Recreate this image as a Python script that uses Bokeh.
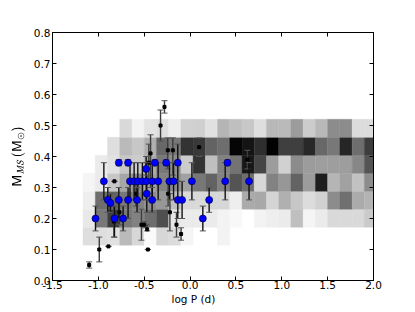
from bokeh.plotting import figure
from bokeh.models import (LinearColorMapper, ColumnDataSource, LinearAxis,
                          FixedTicker, PrintfTickFormatter, Range1d, Title)
from bokeh.transform import transform
from bokeh.palettes import Greys256
from bokeh.embed import file_html
from bokeh.resources import INLINE

# ---------------- data ----------------
x_ticks = [-1.5, -1.0, -0.5, 0.0, 0.5, 1.0, 1.5, 2.0]
y_ticks = [0.0, 0.1, 0.2, 0.3, 0.4, 0.5, 0.6, 0.7, 0.8]

# 2D histogram bin edges (log P, M_MS)
logp_edges = [-1.167, -1.033, -0.900, -0.767, -0.633, -0.500, -0.367, -0.233,
              -0.100, 0.033, 0.167, 0.300, 0.433, 0.567, 0.700, 0.833, 0.967,
              1.100, 1.233, 1.367, 1.500, 1.633, 1.767, 1.900, 2.033]
mass_edges = [0.114, 0.172, 0.230, 0.288, 0.346, 0.404, 0.462, 0.520]

N = None
# relative density (0..100) per cell, bottom row first
dens_row0 = [13, 13, 12, 27, 16, 2, 16, 14, 4, N, N, 5, N, N, N, N, N, N, N, N, N, N, N, N]
dens_row1 = [9, 53, 76, 53, 49, 57, 69, 10, 8, 8, 8, 5, 3, N, 5, 7, 8, 25, 4, 8, 15, 15, 15, 21]
dens_row2 = [7, 57, 61, 53, 49, 45, 41, 25, 15, 15, 16, 16, 7, 33, 34, 17, 31, 22, 14, 18, 45, 56, 33, 30]
dens_row3 = [4, 8, 22, 35, 45, 37, 49, 45, 37, 53, 61, 49, 67, 57, 16, 49, 41, 61, 39, 88, 29, 37, 24, 45]
dens_row4 = [N, 8, 12, 22, 20, 33, 53, 45, 20, 80, 25, 49, 55, 91, 73, 39, 18, 45, 39, 38, 38, 38, 47, 67]
dens_row5 = [N, N, 13, 27, 22, 31, 59, 53, 80, 78, 61, 57, 98, 92, 82, 99, 75, 75, 84, 59, 53, 85, 57, 76]
dens_row6 = [N, N, N, 15, 5, 11, 13, 7, 18, 19, 12, 29, 25, 22, 13, 28, 27, 39, 20, 28, 45, 45, 14, 14]
dens_rows = [dens_row0, dens_row1, dens_row2, dens_row3, dens_row4, dens_row5, dens_row6]

# observed systems with error bars (black)
obs_logp = [-1.10, -0.99, -0.89, -0.825, -0.83, -0.77, -0.59, -0.53, -0.50, -0.468,
            -0.46, -0.431, -0.45, -0.322, -0.279, -0.243, -0.239, -0.22, -0.188,
            -0.148, -0.098, 0.099, 0.625]
obs_mass = [0.05, 0.10, 0.11, 0.32, 0.19, 0.22, 0.28, 0.18, 0.18, 0.165,
            0.10, 0.41, 0.38, 0.50, 0.56, 0.42, 0.28, 0.22, 0.42,
            0.18, 0.15, 0.43, 0.39]
obs_lo = [0.04, 0.06, 0.11, 0.32, 0.14, 0.18, 0.24, 0.13, 0.17, 0.16,
          0.10, 0.30, 0.32, 0.45, 0.54, 0.36, 0.24, 0.16, 0.34,
          0.14, 0.13, 0.40, 0.36]
obs_hi = [0.06, 0.14, 0.11, 0.32, 0.24, 0.26, 0.32, 0.23, 0.19, 0.18,
          0.10, 0.47, 0.44, 0.55, 0.58, 0.46, 0.32, 0.28, 0.46,
          0.22, 0.17, 0.46, 0.42]

# blue systems
blue_logp = [-0.94, -0.655, -0.61, -0.57, -0.52, -0.478, -0.412, -0.348, -0.225, -0.18, 0.02, 0.383, 0.643,
             -0.479, -0.472,
             -0.777, -0.676, -0.384, -0.261, -0.134, 0.408,
             -0.897, -0.777, -0.676, -0.578, -0.414, -0.134, -0.087, 0.208,
             -0.868,
             -1.031, -0.824, -0.730, 0.139]
blue_mass = [0.32, 0.32, 0.32, 0.32, 0.32, 0.32, 0.32, 0.32, 0.32, 0.32, 0.32, 0.32, 0.32,
             0.36, 0.28,
             0.38, 0.38, 0.38, 0.38, 0.38, 0.38,
             0.26, 0.26, 0.26, 0.26, 0.26, 0.26, 0.26, 0.26,
             0.25,
             0.20, 0.20, 0.20, 0.20]
blue_lo = [0.26, 0.26, 0.26, 0.26, 0.26, 0.26, 0.26, 0.26, 0.26, 0.26, 0.26, 0.26, 0.26,
           0.32, 0.22,
           0.37, 0.37, 0.37, 0.37, 0.32, 0.37,
           0.22, 0.20, 0.20, 0.22, 0.22, 0.20, 0.20, 0.22,
           0.22,
           0.16, 0.14, 0.16, 0.16]
blue_hi = [0.38, 0.38, 0.38, 0.38, 0.38, 0.38, 0.38, 0.38, 0.38, 0.38, 0.38, 0.38, 0.38,
           0.40, 0.34,
           0.39, 0.39, 0.39, 0.39, 0.44, 0.39,
           0.30, 0.30, 0.30, 0.30, 0.30, 0.32, 0.32, 0.30,
           0.28,
           0.24, 0.24, 0.24, 0.24]

# ---------------- build sources ----------------
h = dict(left=[], right=[], bottom=[], top=[], d=[])
for r, row in enumerate(dens_rows):
    for c, v in enumerate(row):
        if v is None:
            continue
        h["left"].append(logp_edges[c])
        h["right"].append(logp_edges[c + 1])
        h["bottom"].append(mass_edges[r])
        h["top"].append(mass_edges[r + 1])
        h["d"].append(v)
hist_src = ColumnDataSource(h)
obs_src = ColumnDataSource(dict(x=obs_logp, y=obs_mass, lo=obs_lo, hi=obs_hi))
blue_src = ColumnDataSource(dict(x=blue_logp, y=blue_mass, lo=blue_lo, hi=blue_hi))

FONT = "DejaVu Sans"

p = figure(frame_width=321, frame_height=248,
           x_range=Range1d(-1.5, 2.0), y_range=Range1d(0.0, 0.8),
           output_backend="svg", toolbar_location=None,
           min_border_left=52, min_border_right=42,
           min_border_top=32, min_border_bottom=4,
           background_fill_color="white", border_fill_color="white")
p.xgrid.visible = False
p.ygrid.visible = False
p.outline_line_color = "black"
p.outline_line_width = 1

mapper = LinearColorMapper(palette=list(reversed(Greys256)), low=0, high=100)
p.quad(left="left", right="right", bottom="bottom", top="top", source=hist_src,
       fill_color=transform("d", mapper), line_color=transform("d", mapper),
       line_width=0.4)

# black systems error bars
p.segment(x0="x", y0="lo", x1="x", y1="hi", source=obs_src,
          line_color="#3c3c3c", line_width=1.4)
p.scatter("x", "lo", source=obs_src, marker="dash", size=6,
          line_color="#555555", line_width=1)
p.scatter("x", "hi", source=obs_src, marker="dash", size=6,
          line_color="#555555", line_width=1)
p.scatter("x", "y", source=obs_src, marker="square", size=3,
          fill_color="black", line_color="black")

# blue systems error bars and points
p.segment(x0="x", y0="lo", x1="x", y1="hi", source=blue_src,
          line_color="#111111", line_width=1.4)
p.scatter("x", "lo", source=blue_src, marker="dash", size=6,
          line_color="#555555", line_width=1)
p.scatter("x", "hi", source=blue_src, marker="dash", size=6,
          line_color="#555555", line_width=1)
p.scatter("x", "y", source=blue_src, marker="circle", size=7,
          fill_color="#0000ff", line_color="#000044", line_width=0.7)

# axes
def style_axis(ax):
    ax.axis_line_color = "black"
    ax.major_tick_line_color = "black"
    ax.major_tick_in = 4
    ax.major_tick_out = 0
    ax.minor_tick_in = 0
    ax.minor_tick_out = 0
    ax.major_label_text_font = FONT
    ax.major_label_text_font_size = "10.5px"
    ax.major_label_text_color = "black"
    ax.axis_label_text_font = FONT
    ax.axis_label_text_font_size = "10.5px"
    ax.axis_label_text_font_style = "normal"
    ax.axis_label_text_color = "black"

xa = p.xaxis[0]
xa.ticker = FixedTicker(ticks=x_ticks)
xa.formatter = PrintfTickFormatter(format="%.1f")
style_axis(xa)
xa.major_label_standoff = 0

xlabel = Title(text="log P (d)", align="left", offset=119, standoff=3,
               vertical_align="top",
               text_font=FONT, text_font_size="10.5px", text_font_style="normal",
               text_color="black")
p.add_layout(xlabel, "below")

ya = p.yaxis[0]
ya.ticker = FixedTicker(ticks=y_ticks)
ya.formatter = PrintfTickFormatter(format="%.1f")
ya.axis_label = r"$$\mathsf{M}_{\mathit{MS}}\,(\mathsf{M}_{\odot})$$"
style_axis(ya)
ya.major_label_standoff = 2
ya.axis_label_standoff = 6

top = LinearAxis(ticker=FixedTicker(ticks=x_ticks))
style_axis(top)
top.major_label_text_color = None
top.major_label_standoff = 0
p.add_layout(top, "above")

right = LinearAxis(ticker=FixedTicker(ticks=y_ticks))
style_axis(right)
right.major_label_text_color = None
right.major_label_standoff = 0
p.add_layout(right, "right")

open("out.html", "w").write(file_html(p, INLINE))
